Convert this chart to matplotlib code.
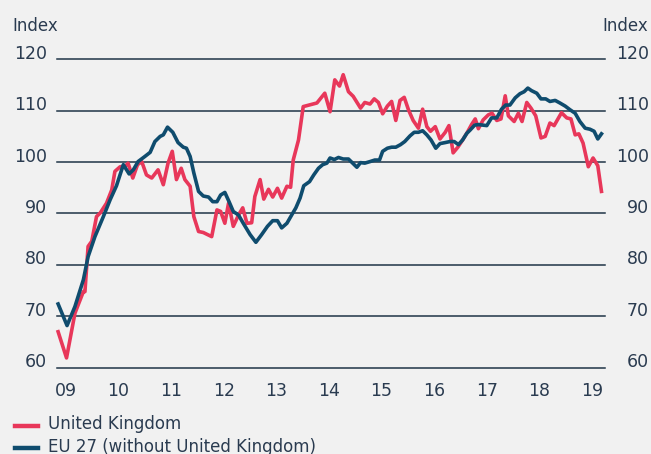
import matplotlib.pyplot as plt
from matplotlib.lines import Line2D
from matplotlib.transforms import blended_transform_factory

# Werte (Dezimaljahr, Index)
uk_jahr = [2008.85, 2009.01, 2009.17, 2009.33, 2009.36, 2009.42, 2009.49, 2009.58, 2009.65, 2009.77,
           2009.87, 2009.93, 2010.03, 2010.12, 2010.18, 2010.27, 2010.36, 2010.44, 2010.53, 2010.63,
           2010.75, 2010.85, 2010.94, 2011.02, 2011.10, 2011.19, 2011.26, 2011.36, 2011.43, 2011.52,
           2011.61, 2011.77, 2011.87, 2011.94, 2012.02, 2012.09, 2012.18, 2012.28, 2012.36, 2012.44,
           2012.53, 2012.59, 2012.69, 2012.76, 2012.85, 2012.93, 2013.02, 2013.10, 2013.20, 2013.27,
           2013.32, 2013.42, 2013.51, 2013.77, 2013.92, 2014.02, 2014.11, 2014.20, 2014.27, 2014.37,
           2014.46, 2014.60, 2014.68, 2014.78, 2014.86, 2014.94, 2015.02, 2015.11, 2015.19, 2015.27,
           2015.35, 2015.43, 2015.51, 2015.60, 2015.70, 2015.78, 2015.86, 2015.93, 2016.02, 2016.11,
           2016.21, 2016.28, 2016.36, 2016.45, 2016.54, 2016.63, 2016.71, 2016.78, 2016.84, 2016.93,
           2017.03, 2017.10, 2017.19, 2017.27, 2017.35, 2017.41, 2017.52, 2017.60, 2017.67, 2017.76,
           2017.84, 2017.93, 2018.03, 2018.11, 2018.20, 2018.28, 2018.42, 2018.52, 2018.60, 2018.68,
           2018.75, 2018.83, 2018.93, 2019.02, 2019.11, 2019.18]
uk_wert = [67.0, 61.9, 70.6, 74.8, 74.8, 83.6, 84.6, 89.4, 90.1, 92.0,
           94.6, 98.2, 99.1, 99.1, 99.8, 96.9, 99.5, 100.1, 97.5, 96.9,
           98.5, 95.6, 99.8, 102.1, 96.6, 98.8, 96.6, 95.3, 89.4, 86.5,
           86.3, 85.5, 90.7, 90.4, 88.1, 92.0, 87.5, 89.7, 91.1, 88.1,
           88.2, 93.3, 96.6, 92.8, 94.7, 93.2, 94.9, 93.0, 95.3, 95.1,
           100.4, 104.3, 110.8, 111.5, 113.4, 109.8, 116.0, 114.8, 117.0, 113.7,
           112.8, 110.5, 111.6, 111.3, 112.3, 111.6, 109.4, 110.9, 111.8, 108.1,
           112.0, 112.6, 110.2, 108.1, 106.6, 110.3, 106.9, 106.0, 106.9, 104.5,
           105.8, 107.1, 101.8, 102.9, 104.3, 105.8, 107.3, 108.4, 106.5, 108.2,
           109.2, 109.5, 108.1, 108.4, 112.9, 109.0, 107.9, 109.5, 107.9, 111.6,
           110.5, 109.0, 104.7, 105.0, 107.6, 107.1, 109.6, 108.6, 108.4, 105.3,
           105.5, 103.7, 99.1, 100.8, 99.3, 94.3]

eu_jahr = [2008.85, 2009.02, 2009.17, 2009.33, 2009.42, 2009.55, 2009.71, 2009.84, 2009.96, 2010.09,
           2010.20, 2010.28, 2010.37, 2010.50, 2010.60, 2010.69, 2010.79, 2010.85, 2010.93, 2011.03,
           2011.13, 2011.23, 2011.29, 2011.36, 2011.43, 2011.52, 2011.61, 2011.71, 2011.79, 2011.87,
           2011.94, 2012.02, 2012.10, 2012.18, 2012.28, 2012.37, 2012.50, 2012.61, 2012.72, 2012.83,
           2012.93, 2013.02, 2013.10, 2013.20, 2013.29, 2013.37, 2013.45, 2013.52, 2013.63, 2013.71,
           2013.80, 2013.88, 2013.96, 2014.02, 2014.10, 2014.18, 2014.27, 2014.37, 2014.45, 2014.53,
           2014.60, 2014.68, 2014.78, 2014.87, 2014.96, 2015.02, 2015.11, 2015.19, 2015.27, 2015.36,
           2015.44, 2015.54, 2015.62, 2015.70, 2015.78, 2015.86, 2015.94, 2016.03, 2016.11, 2016.21,
           2016.30, 2016.38, 2016.46, 2016.54, 2016.62, 2016.68, 2016.77, 2016.84, 2017.00, 2017.09,
           2017.19, 2017.28, 2017.36, 2017.44, 2017.54, 2017.63, 2017.71, 2017.78, 2017.85, 2017.95,
           2018.03, 2018.12, 2018.20, 2018.30, 2018.39, 2018.49, 2018.58, 2018.68, 2018.77, 2018.87,
           2018.96, 2019.04, 2019.11, 2019.18]
eu_wert = [72.4, 68.2, 71.9, 77.1, 81.6, 85.5, 89.4, 92.7, 95.4, 99.5,
           97.7, 98.5, 100.1, 101.1, 101.9, 104.0, 105.0, 105.3, 106.8, 105.8,
           103.8, 102.9, 102.7, 101.1, 97.9, 94.3, 93.4, 93.2, 92.3, 92.3,
           93.6, 94.1, 92.3, 90.4, 89.7, 88.1, 85.9, 84.4, 85.9, 87.5,
           88.6, 88.6, 87.2, 88.1, 89.7, 91.1, 93.0, 95.4, 96.2, 97.5,
           98.8, 99.5, 99.8, 100.8, 100.5, 100.9, 100.6, 100.6, 99.8, 99.0,
           99.9, 99.8, 100.1, 100.4, 100.4, 102.1, 102.7, 102.9, 102.9, 103.4,
           104.0, 105.1, 105.8, 105.8, 106.1, 105.3, 104.3, 102.7, 103.6, 103.8,
           104.0, 104.0, 103.4, 104.3, 105.6, 106.2, 107.2, 107.3, 107.1, 108.6,
           108.6, 110.3, 111.1, 111.1, 112.5, 113.3, 113.7, 114.4, 113.9, 113.4,
           112.3, 112.3, 111.8, 112.0, 111.5, 110.9, 110.2, 109.5, 107.9, 106.6,
           106.4, 106.0, 104.5, 105.5]

jahre = list(range(2009, 2020))
jahr_labels = ["09", "10", "11", "12", "13", "14", "15", "16", "17", "18", "19"]
y_ticks = [60, 70, 80, 90, 100, 110, 120]

BG = "#f1f1f1"
TXT = "#2a3b50"
ROT = "#e8375a"
BLAU = "#0f4c6e"

W, H = 651, 454
fig = plt.figure(figsize=(W / 100, H / 100), dpi=100, facecolor=BG)
ax = fig.add_axes([57 / W, 1 - 367.7 / H, (605 - 57) / W, (367.7 - 59.3) / H])
ax.set_facecolor(BG)

x0 = 2009 + (57 - 66) / 52.6
x1 = 2009 + (605 - 66) / 52.6
ax.set_xlim(x0, x1)
ax.set_ylim(60, 120)

for v in y_ticks:
    ax.axhline(v, color="#1f3447", lw=1.1, zorder=1, clip_on=False)

ax.plot(uk_jahr, uk_wert, color=ROT, lw=2.6, zorder=3, clip_on=False)
ax.plot(eu_jahr, eu_wert, color=BLAU, lw=2.6, zorder=4, clip_on=False)

for s in ax.spines.values():
    s.set_visible(False)
ax.set_yticks([])
ax.set_xticks(jahre)
ax.set_xticklabels(jahr_labels, fontsize=12.5, color=TXT)
ax.tick_params(axis="x", length=0, pad=10)

# y-Beschriftung links und rechts, Grundlinie auf der Gitterlinie
tr = blended_transform_factory(fig.transFigure, ax.transData)
for v in y_ticks:
    ax.text(47 / W, v + 0.1, str(v), transform=tr, ha="right", va="baseline",
            fontsize=12.5, color=TXT)
    ax.text(649 / W, v + 0.1, str(v), transform=tr, ha="right", va="baseline",
            fontsize=12.5, color=TXT)

fig.text(12 / W, 1 - 26 / H, "Index", ha="left", va="center", fontsize=12, color=TXT)
fig.text(648 / W, 1 - 26 / H, "Index", ha="right", va="center", fontsize=12, color=TXT)

# Legende
for yy, farbe, name in [(425.5, ROT, "United Kingdom"),
                        (448, BLAU, "EU 27 (without United Kingdom)")]:
    fig.add_artist(Line2D([15 / W, 38 / W], [1 - yy / H, 1 - yy / H], color=farbe, lw=3.2))
    fig.text(48 / W, 1 - (yy - 1.5) / H, name, ha="left", va="center", fontsize=12, color=TXT)

fig.savefig("out.png", dpi=100, facecolor=BG)
